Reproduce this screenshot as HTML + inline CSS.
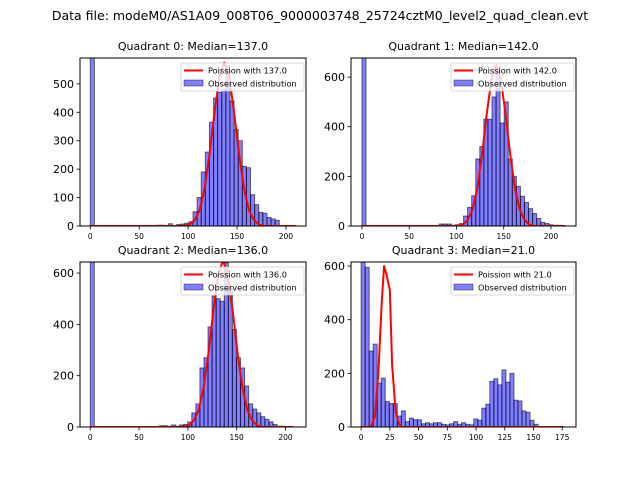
<!DOCTYPE html>
<html><head><meta charset="utf-8"><style>
body{margin:0;background:#fff;}
svg{display:block;font-family:"DejaVu Sans","Liberation Sans",sans-serif;}
</style></head><body>
<svg id="chart" width="640" height="480" viewBox="0 0 640 480">
<rect width="640" height="480" fill="#fff"/>
<text x="320" y="20" font-size="12.5" text-anchor="middle">Data file: modeM0/AS1A09_008T06_9000003748_25724cztM0_level2_quad_clean.evt</text>
</svg>
<script>
// ---- data ----
const titles = ["Quadrant 0: Median=137.0","Quadrant 1: Median=142.0","Quadrant 2: Median=136.0","Quadrant 3: Median=21.0"];
const lambdas = ["137.0","142.0","136.0","21.0"];
const binWidths = [4.2, 4.3, 4.16, 3.5];
const q0Counts = [2000,0,0,0,0,0,0,0,0,0,0,0,0,0,0,0,3,3,0,8,0,5,7,10,15,50,100,190,260,365,450,470,480,565,440,340,300,210,205,110,75,48,45,30,25,20,0,0,0,0];
const q1Counts = [2000,0,0,0,0,0,0,0,0,0,0,0,0,0,0,0,0,0,0,8,8,8,3,5,10,40,75,122,270,320,430,430,520,640,415,500,270,200,160,120,95,70,50,30,15,10,5,3,3,2];
const q2Counts = [2000,0,0,0,0,0,0,0,0,0,0,0,0,0,0,0,0,5,5,3,8,3,8,10,20,55,90,230,270,390,510,500,490,640,540,380,270,230,160,90,70,55,40,30,20,10,3,3,0,0];
const q3Counts = [2000,595,283,309,163,182,95,88,87,41,60,20,33,27,27,12,16,12,16,16,10,8,12,20,10,16,10,8,30,25,70,85,170,180,157,213,167,200,100,97,60,55,25,10,0,0,0,0,0,0];
const q0CurveX = [0,95,102,107,112,117,122,127,132,137,142,147,152,157,162,167,172,177,210];
const q0CurveY = [0,0,6,22,58,135,255,400,525,575,525,400,255,135,58,22,6,0,0];
const q1CurveX = [0,100,107,112,117,122,127,132,137,142,147,152,157,162,167,172,177,182,215];
const q1CurveY = [0,0,6,25,65,150,285,450,590,650,590,450,285,150,65,25,6,0,0];
const q2CurveX = [0,94,101,106,111,116,121,126,131,136,141,146,151,156,161,166,171,176,208];
const q2CurveY = [0,0,6,25,65,150,285,450,590,650,590,450,285,150,65,25,6,0,0];
const q3CurveX = [0,7,9,12,15,18,20,22,25,27,30,33,36,176];
const q3CurveY = [0,0,5,40,200,470,600,570,510,230,60,10,0,0];
const yTicks = [[0,100,200,300,400,500],[0,200,400,600],[0,200,400,600],[0,200,400,600]];
const xTicks = [[0,50,100,150,200],[0,50,100,150,200],[0,50,100,150,200],[0,25,50,75,100,125,150,175]];
const allCounts=[q0Counts,q1Counts,q2Counts,q3Counts];
const allCX=[q0CurveX,q1CurveX,q2CurveX,q3CurveX];
const allCY=[q0CurveY,q1CurveY,q2CurveY,q3CurveY];
// ---- layout ----
const boxes=[{l:80,r:306,t:58,b:226,x0:-10.5,x1:220.5,ymax:591},
 {l:351,r:576,t:58,b:226,x0:-11.6,x1:226.5,ymax:677},
 {l:80,r:306,t:262,b:427,x0:-10.5,x1:221,ymax:643},
 {l:351,r:576,t:262,b:427,x0:-8.8,x1:187,ymax:615}];
const NS="http://www.w3.org/2000/svg";
const svg=document.getElementById('chart');
function mk(tag,at,parent){const e=document.createElementNS(NS,tag);for(const k in at)e.setAttribute(k,at[k]);(parent||svg).appendChild(e);return e;}
boxes.forEach((B,q)=>{
  const g=mk('g',{});
  
  
  const sx=v=>B.l+(v-B.x0)/(B.x1-B.x0)*(B.r-B.l);
  const sy=v=>B.b-Math.min(v,B.ymax*1.05)/B.ymax*(B.b-B.t);
  const cp=mk('clipPath',{id:'c'+q},g);mk('rect',{x:B.l,y:B.t,width:B.r-B.l,height:B.b-B.t},cp);
  const pg=mk('g',{'clip-path':'url(#c'+q+')'},g);
  const w=binWidths[q];
  allCounts[q].forEach((c,i)=>{
    if(c<=0)return;
    const x1=sx(i*w),x2=sx((i+1)*w);
    const r=mk('rect',{x:x1,y:sy(c),width:x2-x1,height:B.b-sy(c),fill:'rgba(0,0,255,0.5)',stroke:'rgba(0,0,0,0.55)','stroke-width':1},pg);
    
    
  });
  const pts=allCX[q].map((x,i)=>sx(x)+','+sy(allCY[q][i])).join(' ');
  const pl=mk('polyline',{points:pts,fill:'none',stroke:'#ff0000','stroke-width':2,'stroke-linejoin':'round'},pg);
  
  
  mk('rect',{x:B.l,y:B.t,width:B.r-B.l,height:B.b-B.t,fill:'none',stroke:'#000','stroke-width':1},g);
  yTicks[q].forEach(v=>{
    const y=sy(v);
    mk('line',{x1:B.l-3.5,x2:B.l,y1:y,y2:y,stroke:'#000','stroke-width':0.8},g);
    const t=mk('text',{x:B.l-6,y:y+4,'font-size':11,'text-anchor':'end'},g);t.textContent=v;
    
    
  });
  xTicks[q].forEach(v=>{
    const x=sx(v);
    mk('line',{x1:x,x2:x,y1:B.b,y2:B.b+3.5,stroke:'#000','stroke-width':0.8},g);
    const t=mk('text',{x:x,y:B.b+13,'font-size':7.5,'text-anchor':'middle'},g);t.textContent=v;
    
    
  });
  const tt=mk('text',{x:(B.l+B.r)/2,y:B.t-8,'font-size':11,'text-anchor':'middle'},g);tt.textContent=titles[q];
  
  
  const lg=mk('g',{},g);
  
  
  const lx=B.r-125,ly=B.t+5;
  mk('rect',{x:lx,y:ly,width:123,height:28,fill:'rgba(255,255,255,0.8)',stroke:'#ccc','stroke-width':0.8,rx:2},lg);
  mk('line',{x1:lx+3,x2:lx+22,y1:ly+7.5,y2:ly+7.5,stroke:'#ff0000','stroke-width':2},lg);
  const l1=mk('text',{x:lx+27,y:ly+10.5,'font-size':8.2},lg);l1.textContent='Poission with '+lambdas[q];
  mk('rect',{x:lx+3,y:ly+17,width:19,height:6,fill:'rgba(0,0,255,0.5)',stroke:'rgba(0,0,0,0.5)','stroke-width':0.8},lg);
  const l2=mk('text',{x:lx+27,y:ly+23.5,'font-size':8.2},lg);l2.textContent='Observed distribution';
});
</script>
</body></html>
